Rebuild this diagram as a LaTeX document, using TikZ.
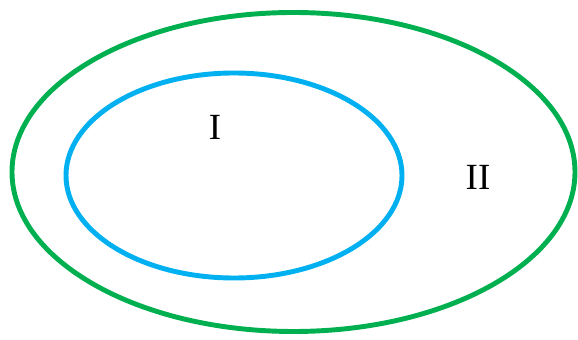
\documentclass[tikz,border=0pt]{standalone}
\usepackage{fontspec}
\setmainfont{Liberation Serif}
\definecolor{setgreen}{RGB}{0,176,80}
\definecolor{setblue}{RGB}{0,176,240}
\tikzset{
  setline/.style={line width=2.8pt},
  setlabel/.style={font=\fontsize{21}{24}\selectfont, inner sep=0pt}
}

\begin{document}
\begin{tikzpicture}[x=0.02cm, y=-0.02cm]
          \useasboundingbox (0,0) rectangle (578,340);
          \draw [setline, setgreen] (293.5,172) ellipse [x radius=281.5, y radius=159.5];
          \draw [setline, setblue] (234,175.5) ellipse [x radius=168, y radius=102.5];
          \node [setlabel] (one) at (215,127) {I};
          \node [setlabel] (two) at (478,177) {II};
        \end{tikzpicture}
\end{document}
